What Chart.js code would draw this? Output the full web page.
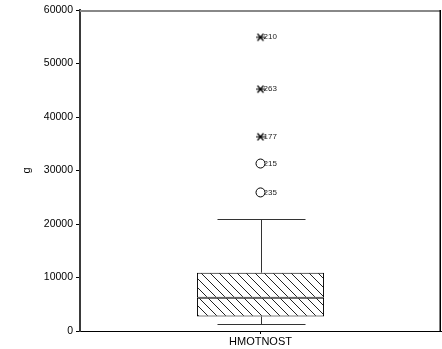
<!DOCTYPE html>
<html>
<head>
<meta charset="utf-8">
<script src="https://cdn.jsdelivr.net/npm/chart.js@4/dist/chart.umd.min.js"></script>
<style>
  html, body { margin: 0; padding: 0; background: #fff; }
  #wrap { width: 442px; height: 349px; }
</style>
</head>
<body>
<div id="wrap"><canvas id="c" width="442" height="349"></canvas></div>
<script>
// Box plot of HMOTNOST (g)
const categories = ['HMOTNOST'];
const whiskerLow = [1300];
const quartile1 = [2700];
const medianVals = [6200];
const quartile3 = [10900];
const whiskerHigh = [21000];

// extreme cases (asterisks) and outliers (circles), with case numbers
const extremeValues = [54900, 45200, 36300];
const extremeCases = ['210', '263', '177'];
const outlierValues = [31300, 25900];
const outlierCases = ['215', '235'];

const yTicks = [0, 10000, 20000, 30000, 40000, 50000, 60000];

const FONT = '"Liberation Sans", Arial, sans-serif';

// diagonal hatch fill for the box
function makeHatch() {
  const s = 9;
  const p = document.createElement('canvas');
  p.width = s; p.height = s;
  const g = p.getContext('2d');
  g.fillStyle = '#fff';
  g.fillRect(0, 0, s, s);
  g.strokeStyle = '#222';
  g.lineWidth = 1;
  g.beginPath();
  g.moveTo(-1, -1); g.lineTo(s + 1, s + 1);
  g.moveTo(-1, s - 1); g.lineTo(1, s + 1);
  g.moveTo(s - 1, -1); g.lineTo(s + 1, 1);
  g.stroke();
  return g.createPattern(p, 'repeat');
}

// asterisk marker: horizontal stroke plus a diagonal cross
function makeStar() {
  const s = 10;
  const c = document.createElement('canvas');
  c.width = s; c.height = s;
  const g = c.getContext('2d');
  g.strokeStyle = '#000';
  g.lineWidth = 1.2;
  g.beginPath();
  g.moveTo(0, 5); g.lineTo(10, 5);
  g.moveTo(2, 1.5); g.lineTo(8, 8.5);
  g.moveTo(8, 1.5); g.lineTo(2, 8.5);
  g.stroke();
  return c;
}

const hatch = makeHatch();

// whiskers, caps, frame and case labels
const boxExtras = {
  id: 'boxExtras',
  beforeDatasetsDraw(chart) {
    const { ctx, scales: { x, y } } = chart;
    ctx.save();
    ctx.strokeStyle = '#333';
    ctx.lineWidth = 1;
    categories.forEach((cat, i) => {
      const cx = Math.round(x.getPixelForValue(i)) + 0.5;
      const capHalf = 44;
      const yLo = Math.round(y.getPixelForValue(whiskerLow[i])) + 0.5;
      const yHi = Math.round(y.getPixelForValue(whiskerHigh[i])) + 0.5;
      const yQ1 = y.getPixelForValue(quartile1[i]);
      const yQ3 = y.getPixelForValue(quartile3[i]);
      ctx.beginPath();
      ctx.moveTo(cx, yHi); ctx.lineTo(cx, yQ3);
      ctx.moveTo(cx, yQ1); ctx.lineTo(cx, yLo);
      ctx.moveTo(cx - capHalf, yHi); ctx.lineTo(cx + capHalf, yHi);
      ctx.moveTo(cx - capHalf, yLo); ctx.lineTo(cx + capHalf, yLo);
      ctx.stroke();
    });
    ctx.restore();
  },
  afterDatasetsDraw(chart) {
    const { ctx, chartArea: a, scales: { x, y } } = chart;
    ctx.save();
    // top and right frame
    ctx.strokeStyle = '#888';
    ctx.lineWidth = 2;
    ctx.beginPath();
    ctx.moveTo(a.left, a.top + 1); ctx.lineTo(a.right, a.top + 1);
    ctx.stroke();
    ctx.strokeStyle = '#000';
    ctx.lineWidth = 1.5;
    ctx.beginPath();
    ctx.moveTo(a.right - 0.75, a.top); ctx.lineTo(a.right - 0.75, a.bottom);
    ctx.stroke();
    // case numbers beside the points
    ctx.fillStyle = '#222';
    ctx.font = '8px ' + FONT;
    ctx.textBaseline = 'middle';
    ctx.textAlign = 'left';
    const cx = x.getPixelForValue(0);
    extremeValues.forEach((v, i) => ctx.fillText(extremeCases[i], cx + 3, y.getPixelForValue(v)));
    outlierValues.forEach((v, i) => ctx.fillText(outlierCases[i], cx + 3, y.getPixelForValue(v)));
    ctx.restore();
  }
};

new Chart(document.getElementById('c'), {
  type: 'bar',
  data: {
    labels: categories,
    datasets: [
      {
        label: 'Q1–median',
        data: categories.map((c, i) => [quartile1[i], medianVals[i]]),
        backgroundColor: hatch,
        borderColor: '#000',
        borderWidth: 1,
        borderSkipped: false,
        barPercentage: 0.352,
        categoryPercentage: 1,
        order: 2
      },
      {
        label: 'median–Q3',
        data: categories.map((c, i) => [medianVals[i], quartile3[i]]),
        backgroundColor: hatch,
        borderColor: '#000',
        borderWidth: 1,
        borderSkipped: false,
        barPercentage: 0.352,
        categoryPercentage: 1,
        order: 2
      },
      {
        type: 'line',
        label: 'extremes',
        data: extremeValues.map(v => ({ x: categories[0], y: v })),
        showLine: false,
        pointStyle: makeStar(),
        order: 1
      },
      {
        type: 'line',
        label: 'outliers',
        data: outlierValues.map(v => ({ x: categories[0], y: v })),
        showLine: false,
        pointStyle: 'circle',
        pointRadius: 4.5,
        pointBorderWidth: 1,
        pointBorderColor: '#000',
        pointBackgroundColor: 'rgba(255,255,255,0)',
        order: 1
      }
    ]
  },
  options: {
    responsive: false,
    animation: false,
    devicePixelRatio: 1,
    layout: { autoPadding: false, padding: { left: 0, right: 1, top: 10, bottom: 0 } },
    plugins: {
      legend: { display: false },
      tooltip: { enabled: false }
    },
    scales: {
      x: {
        stacked: true,
        grid: { display: true, drawOnChartArea: false, drawTicks: true, tickLength: 3, offset: false, color: '#000' },
        border: { display: true, color: '#000', width: 1 },
        ticks: { color: '#000', font: { family: FONT, size: 11 }, padding: 1, maxRotation: 0 },
        afterFit(s) { s.height = 18; s.paddingLeft = 0; s.paddingRight = 0; }
      },
      y: {
        stacked: false,
        min: 0,
        max: 60000,
        afterBuildTicks(s) { s.ticks = yTicks.map(v => ({ value: v })); },
        grid: { display: true, drawOnChartArea: false, drawTicks: true, tickLength: 4, color: '#000' },
        border: { display: true, color: '#3a3a3a', width: 2 },
        ticks: { color: '#000', font: { family: FONT, size: 10.5 }, padding: 3, callback: v => String(v) },
        title: { display: true, text: 'g', color: '#000', font: { family: FONT, size: 11 }, padding: { top: 20, bottom: 0 } },
        afterFit(s) { s.width = 80; }
      }
    }
  },
  plugins: [boxExtras]
});
</script>
</body>
</html>
